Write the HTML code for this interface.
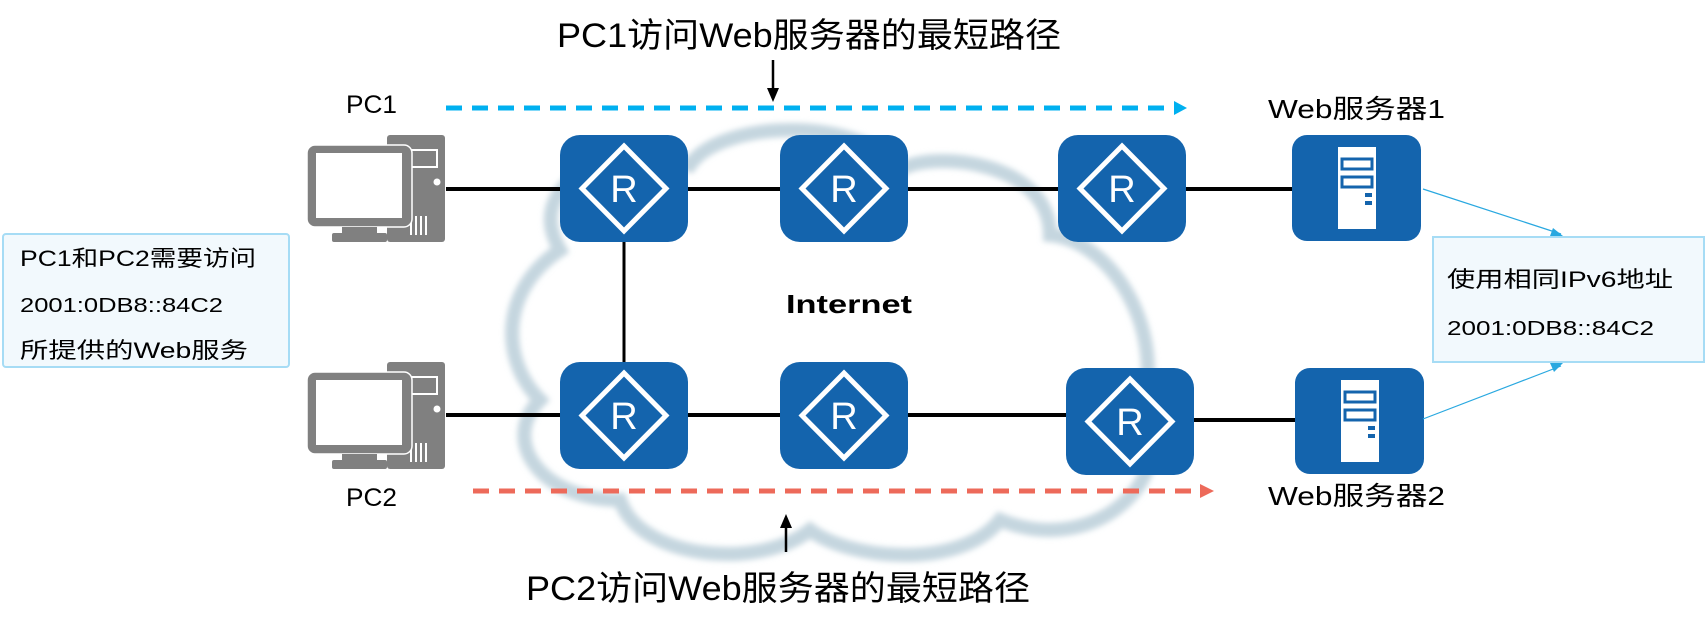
<!DOCTYPE html>
<html><head><meta charset="utf-8"><style>
body{margin:0;background:#fff;}
svg{display:block}
text{font-family:"Liberation Sans","Noto Sans CJK SC",sans-serif;}
</style></head><body>
<svg width="1706" height="632" viewBox="0 0 1706 632" xmlns="http://www.w3.org/2000/svg">
<defs>
<filter id="bl"><feGaussianBlur stdDeviation="3"/></filter>
<g id="router">
<rect x="0" y="0" width="128" height="107" rx="20" fill="#1464ad"/>
<polygon points="64,11 106,53.5 64,96 22,53.5" fill="none" stroke="#fff" stroke-width="5"/>
<text x="64" y="67" font-size="38" fill="#fff" text-anchor="middle">R</text>
</g>
<g id="server">
<rect x="0" y="0" width="129" height="106" rx="15" fill="#1464ad"/>
<rect x="46" y="12" width="38" height="82" fill="#fff"/>
<rect x="50" y="24" width="30" height="10" fill="none" stroke="#1464ad" stroke-width="3"/>
<rect x="50" y="42" width="30" height="10" fill="none" stroke="#1464ad" stroke-width="3"/>
<rect x="73" y="58" width="7" height="4" fill="#1464ad"/>
<rect x="73" y="66" width="7" height="4" fill="#1464ad"/>
</g>
<g id="pc">
<rect x="80" y="0" width="58" height="107" rx="3" fill="#808080"/>
<rect x="98" y="15" width="32" height="17" fill="none" stroke="#fff" stroke-width="2"/>
<circle cx="130" cy="47" r="3.5" fill="#fff"/>
<g stroke="#fff" stroke-width="2"><line x1="104" y1="81" x2="104" y2="100"/><line x1="109" y1="81" x2="109" y2="100"/><line x1="114" y1="81" x2="114" y2="100"/><line x1="119" y1="81" x2="119" y2="100"/></g>
<rect x="0" y="10" width="105" height="82" rx="8" fill="#808080" stroke="#fff" stroke-width="1.5"/>
<rect x="9" y="18" width="86" height="65" fill="#fff"/>
<rect x="35" y="92" width="35" height="6" fill="#808080"/>
<rect x="25" y="98" width="55" height="9" rx="2" fill="#808080"/>
</g>
</defs>

<!-- cloud -->
<path d="M560,250 C520,180 620,140 690,165 C720,120 860,115 900,170 C930,150 1050,160 1050,235 C1110,240 1170,330 1140,420 C1180,470 1100,560 1000,520 C960,570 850,560 810,530 C760,570 640,560 620,500 C540,500 500,440 540,400 C500,360 500,290 560,250 Z" fill="none" stroke="#c5d6df" stroke-width="14" filter="url(#bl)"/>

<!-- lines -->
<g stroke="#000" stroke-width="4">
<line x1="446" y1="189" x2="1292" y2="189"/>
<line x1="446" y1="415" x2="1066" y2="415"/>
<line x1="1190" y1="420" x2="1295" y2="420"/>
</g>
<line x1="624" y1="242" x2="624" y2="362" stroke="#000" stroke-width="3"/>

<!-- pcs -->
<g transform="translate(307,135)"><use href="#pc"/></g>
<g transform="translate(307,362)"><use href="#pc"/></g>

<!-- routers -->
<g transform="translate(560,135)"><use href="#router"/></g>
<g transform="translate(780,135)"><use href="#router"/></g>
<g transform="translate(1058,135)"><use href="#router"/></g>
<g transform="translate(560,362)"><use href="#router"/></g>
<g transform="translate(780,362)"><use href="#router"/></g>
<g transform="translate(1066,368)"><use href="#router"/></g>
<g transform="translate(1292,135)"><use href="#server"/></g>
<g transform="translate(1295,368)"><use href="#server"/></g>

<!-- dashed arrows -->
<line x1="446" y1="108" x2="1176" y2="108" stroke="#00b0f0" stroke-width="5" stroke-dasharray="16,10"/>
<polygon points="1174,101 1187,108 1174,115" fill="#00b0f0"/>
<line x1="473" y1="491" x2="1202" y2="491" stroke="#ed6a5a" stroke-width="5" stroke-dasharray="16,10"/>
<polygon points="1200,484 1214,491 1200,498" fill="#ed6a5a"/>

<!-- black arrows -->
<line x1="773" y1="60" x2="773" y2="92" stroke="#000" stroke-width="2.5"/>
<polygon points="767,88 773,102 779,88" fill="#000"/>
<line x1="786" y1="552" x2="786" y2="524" stroke="#000" stroke-width="2.5"/>
<polygon points="780,528 786,514 792,528" fill="#000"/>

<!-- thin blue lines -->
<line x1="1423" y1="189" x2="1561" y2="234" stroke="#29a8e0" stroke-width="1.2"/>
<polygon points="1553,228 1563,236 1550,236" fill="#29a8e0"/>
<line x1="1423" y1="419" x2="1561" y2="366" stroke="#29a8e0" stroke-width="1.2"/>
<polygon points="1550,363 1563,363 1554,372" fill="#29a8e0"/>

<!-- boxes -->
<rect x="3" y="234" width="286" height="133" rx="3" fill="#f2f9fd" stroke="#a6dcf5" stroke-width="2"/>
<rect x="1433" y="237" width="271" height="125" fill="#f2f9fd" stroke="#a6dcf5" stroke-width="2"/>

<!-- text -->
<text x="557" y="47" font-size="34" textLength="504" lengthAdjust="spacingAndGlyphs">PC1访问Web服务器的最短路径</text>
<text x="526" y="600" font-size="34" textLength="504" lengthAdjust="spacingAndGlyphs">PC2访问Web服务器的最短路径</text>
<text x="346" y="113" font-size="25" textLength="51" lengthAdjust="spacingAndGlyphs">PC1</text>
<text x="346" y="506" font-size="25" textLength="51" lengthAdjust="spacingAndGlyphs">PC2</text>
<text x="1268" y="118" font-size="26" textLength="177" lengthAdjust="spacingAndGlyphs">Web服务器1</text>
<text x="1268" y="505" font-size="26" textLength="177" lengthAdjust="spacingAndGlyphs">Web服务器2</text>
<text x="786" y="313" font-size="26" font-weight="bold" textLength="126" lengthAdjust="spacingAndGlyphs">Internet</text>
<text x="20" y="266" font-size="22" textLength="236" lengthAdjust="spacingAndGlyphs">PC1和PC2需要访问</text>
<text x="20" y="312" font-size="20" textLength="203" lengthAdjust="spacingAndGlyphs">2001:0DB8::84C2</text>
<text x="20" y="358" font-size="22" textLength="228" lengthAdjust="spacingAndGlyphs">所提供的Web服务</text>
<text x="1447" y="287" font-size="22" textLength="226" lengthAdjust="spacingAndGlyphs">使用相同IPv6地址</text>
<text x="1447" y="335" font-size="20" textLength="207" lengthAdjust="spacingAndGlyphs">2001:0DB8::84C2</text>
</svg>
</body></html>
